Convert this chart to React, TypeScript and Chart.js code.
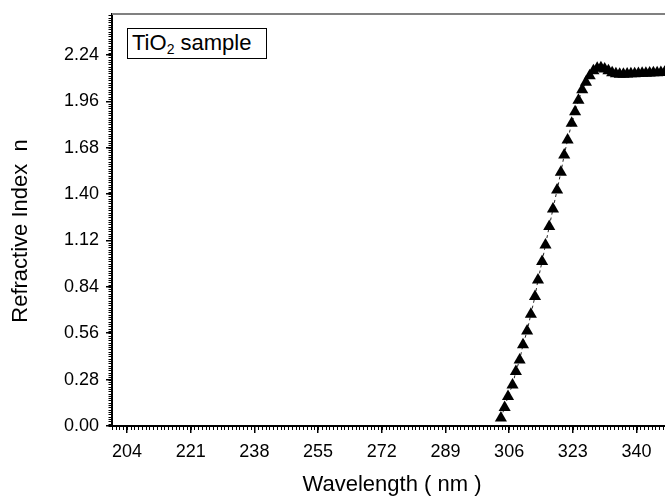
import React, { useEffect, useRef } from "react";
import { Chart, registerables } from "chart.js";

Chart.register(...registerables);

// Wavelength (nm) and refractive index n
const wavelength: number[] = [
  303.8, 304.8, 305.7, 306.9, 307.8, 308.8, 309.7, 310.8, 311.8, 312.9,
  313.7, 314.8, 315.7, 316.7, 317.7, 318.8, 319.8, 320.7, 321.6, 322.7,
  323.6, 324.5, 325.5, 326.5, 327.5, 328.5, 329.5, 330.5, 331.5, 332.5,
  333.5, 334.5, 335.5, 336.5, 337.5, 338.5, 339.5, 340.5, 341.5, 342.5,
  343.5, 344.5, 345.5, 346.5, 347.5, 348.5,
];
const refractiveIndex: number[] = [
  0.048, 0.112, 0.178, 0.248, 0.329, 0.399, 0.49, 0.574, 0.675, 0.782,
  0.882, 0.993, 1.093, 1.204, 1.31, 1.425, 1.531, 1.636, 1.726, 1.827,
  1.897, 1.967, 2.03, 2.075, 2.115, 2.145, 2.16, 2.162, 2.155, 2.145,
  2.132, 2.126, 2.124, 2.124, 2.125, 2.126, 2.127, 2.128, 2.129, 2.13,
  2.131, 2.132, 2.133, 2.134, 2.135, 2.136,
];

const xTickValues: number[] = [204, 221, 238, 255, 272, 289, 306, 323, 340];
const yTickValues: number[] = [0, 0.28, 0.56, 0.84, 1.12, 1.4, 1.68, 1.96, 2.24];
const X_MIN = 200;
const X_MAX = 347.6;
const Y_MIN = 0;
const Y_MAX = 2.487;
const X_MINOR_STEP = 1;
const Y_MINOR_STEP = 0.014;

const FONT = "'Liberation Sans', Arial, Helvetica, sans-serif";

const framePlugin = {
  id: "framePlugin",
  afterDraw(chart: any) {
    const { ctx, chartArea, scales } = chart;
    const xs = scales.x;
    const ys = scales.y;
    ctx.save();
    ctx.strokeStyle = "#000";
    ctx.lineWidth = 1;
    ctx.beginPath();
    const nx = Math.floor((X_MAX - X_MIN) / X_MINOR_STEP);
    for (let i = 0; i <= nx; i++) {
      const v = X_MIN + i * X_MINOR_STEP;
      const px = Math.round(xs.getPixelForValue(v)) + 0.5;
      ctx.moveTo(px, chartArea.bottom);
      ctx.lineTo(px, chartArea.bottom + 4);
    }
    const ny = Math.floor((Y_MAX - Y_MIN) / Y_MINOR_STEP + 1e-6);
    for (let i = 0; i <= ny; i++) {
      const v = Y_MIN + i * Y_MINOR_STEP;
      const py = Math.round(ys.getPixelForValue(v)) + 0.5;
      ctx.moveTo(chartArea.left, py);
      ctx.lineTo(chartArea.left - 3.5, py);
    }
    ctx.stroke();
    // top frame line
    ctx.strokeStyle = "#808080";
    ctx.lineWidth = 2;
    ctx.beginPath();
    ctx.moveTo(chartArea.left, chartArea.top);
    ctx.lineTo(chartArea.right, chartArea.top);
    ctx.stroke();
    // axis titles
    ctx.fillStyle = "#000";
    ctx.font = `22px ${FONT}`;
    ctx.textAlign = "center";
    ctx.textBaseline = "middle";
    ctx.fillText("Wavelength ( nm )", 392, 485);
    ctx.translate(21, 231);
    ctx.rotate(-Math.PI / 2);
    ctx.fillText("Refractive Index  n", 0, 0);
    ctx.restore();
  },
};

export default function App() {
  const canvasRef = useRef<HTMLCanvasElement | null>(null);

  useEffect(() => {
    document.body.style.margin = "0";
    const canvas = canvasRef.current;
    if (!canvas) return;
    const points = wavelength.map((w, i) => ({ x: w, y: refractiveIndex[i] }));
    const chart = new Chart(canvas, {
      type: "line",
      data: {
        datasets: [
          {
            data: points,
            borderColor: "#222",
            borderWidth: 1,
            borderDash: [3, 3],
            pointStyle: "triangle",
            pointRadius: 7,
            pointBackgroundColor: "#000",
            pointBorderColor: "#000",
            pointBorderWidth: 0,
            tension: 0,
          },
        ],
      },
      options: {
        animation: false,
        responsive: true,
        maintainAspectRatio: false,
        layout: { autoPadding: false, padding: { top: 14, right: 0, left: 0, bottom: 0 } },
        plugins: { legend: { display: false }, tooltip: { enabled: false } },
        scales: {
          x: {
            type: "linear",
            min: X_MIN,
            max: X_MAX,
            afterBuildTicks: (scale: any) => {
              scale.ticks = xTickValues.map((v) => ({ value: v }));
            },
            afterFit: (scale: any) => {
              scale.height = 72;
              scale.paddingRight = 0;
              scale.paddingLeft = 0;
            },
            ticks: {
              color: "#000",
              font: { family: FONT, size: 18 },
              padding: 8,
              maxRotation: 0,
              autoSkip: false,
              callback: (v: any) => String(v),
            },
            grid: {
              drawOnChartArea: false,
              color: "#000",
              lineWidth: 1.5,
              tickLength: 7,
            },
            border: { color: "#000", width: 2 },
          },
          y: {
            type: "linear",
            min: Y_MIN,
            max: Y_MAX,
            afterBuildTicks: (scale: any) => {
              scale.ticks = yTickValues.map((v) => ({ value: v }));
            },
            afterFit: (scale: any) => {
              scale.width = 112;
              scale.paddingTop = 0;
              scale.paddingBottom = 0;
            },
            ticks: {
              color: "#000",
              font: { family: FONT, size: 18 },
              padding: 7,
              autoSkip: false,
              callback: (v: any) => Number(v).toFixed(2),
            },
            grid: {
              drawOnChartArea: false,
              color: "#000",
              lineWidth: 1.5,
              tickLength: 6,
            },
            border: { color: "#000", width: 2 },
          },
        },
      },
      plugins: [framePlugin],
    });
    return () => chart.destroy();
  }, []);

  return (
    <div style={{ position: "relative", width: 665, height: 498, background: "#fff" }}>
      <canvas ref={canvasRef} />
      <div
        style={{
          position: "absolute",
          left: 127,
          top: 28,
          width: 140,
          height: 31,
          boxSizing: "border-box",
          border: "1px solid #000",
          background: "#fff",
          fontFamily: FONT,
          fontSize: 22,
          lineHeight: "28px",
          paddingLeft: 4,
          color: "#000",
          whiteSpace: "nowrap",
        }}
      >
        TiO
        <sub style={{ fontSize: 14, verticalAlign: "-4px", lineHeight: 0 }}>2</sub> sample
      </div>
    </div>
  );
}
